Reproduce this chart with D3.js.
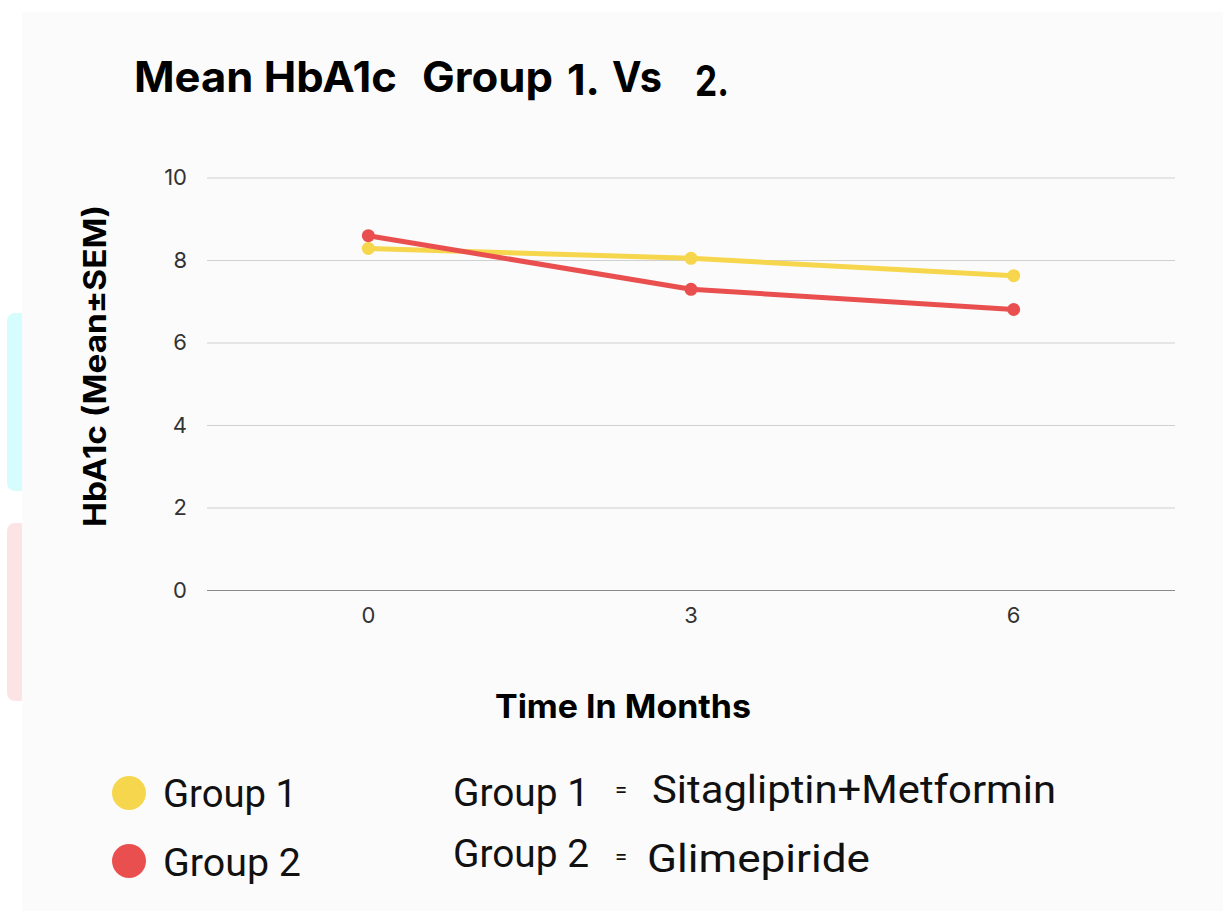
<!DOCTYPE html>
<html>
<head>
<meta charset="utf-8">
<script src="https://cdn.jsdelivr.net/npm/d3@7"></script>
<style>
  html, body { margin: 0; padding: 0; background: #ffffff; }
  svg { display: block; }
</style>
</head>
<body>
<svg id="chart" width="1223" height="911"></svg>
<script>
// HbA1c over time for two treatment groups
const months = ["0", "3", "6"];
const group1 = [8.28, 8.04, 7.62];   // Sitagliptin+Metformin
const group2 = [8.59, 7.29, 6.80];   // Glimepiride
const yTicks = [0, 2, 4, 6, 8, 10];
const seriesNames = ["Group 1", "Group 2"];
const seriesColors = ["#f6d64c", "#ea4f4f"];
const drugNames = ["Sitagliptin+Metformin", "Glimepiride"];

const svg = d3.select("#chart");
const geo = "Inter, 'Open Sans', sans-serif";
const legendFont = "Roboto, 'Noto Sans', sans-serif";

// card background
svg.append("rect").attr("x", 22).attr("y", 12).attr("width", 1201).attr("height", 899)
  .attr("fill", "#fbfbfb");
// faint side tabs on the left edge
svg.append("rect").attr("x", 7).attr("y", 313).attr("width", 22).attr("height", 178).attr("rx", 8)
  .attr("fill", "#d6fdfd");
svg.append("rect").attr("x", 7).attr("y", 523).attr("width", 22).attr("height", 178).attr("rx", 8)
  .attr("fill", "#fde4e4");
svg.append("rect").attr("x", 22).attr("y", 300).attr("width", 10).attr("height", 420)
  .attr("fill", "#fbfbfb");

const plot = { left: 207, right: 1175, top: 177.5, bottom: 590 };

const x = d3.scaleBand().domain(months).range([plot.left, plot.right]);
const y = d3.scaleLinear().domain([0, 10]).range([plot.bottom, plot.top]);
const cx = m => x(m) + x.bandwidth() / 2;

// horizontal gridlines + y labels
const yAxis = svg.append("g")
  .attr("transform", `translate(${plot.left},0)`)
  .call(d3.axisLeft(y).tickValues(yTicks).tickSize(-(plot.right - plot.left)).tickPadding(20));
yAxis.select(".domain").remove();
yAxis.selectAll(".tick line")
  .attr("stroke", d => d === 0 ? "#8a8a8a" : "#d0d0d0")
  .attr("stroke-width", 1.2);
yAxis.selectAll(".tick text")
  .attr("font-family", geo)
  .attr("font-size", 22).attr("fill", "#333");

// x labels
const xAxis = svg.append("g")
  .attr("transform", `translate(0,${plot.bottom})`)
  .call(d3.axisBottom(x).tickSize(0).tickPadding(17));
xAxis.select(".domain").remove();
xAxis.selectAll(".tick text")
  .attr("font-family", geo)
  .attr("font-size", 22).attr("fill", "#333");

// lines and markers
const line = d3.line().x((d, i) => cx(months[i])).y(d => y(d));
[group1, group2].forEach((vals, k) => {
  svg.append("path").datum(vals).attr("d", line)
    .attr("fill", "none").attr("stroke", seriesColors[k])
    .attr("stroke-width", 5).attr("stroke-linejoin", "round");
  svg.selectAll(null).data(vals).enter().append("circle")
    .attr("cx", (d, i) => cx(months[i])).attr("cy", d => y(d)).attr("r", 6.5)
    .attr("fill", seriesColors[k]);
});

// axis titles
svg.append("text")
  .attr("transform", `translate(106,${366}) rotate(-90)`)
  .attr("text-anchor", "middle")
  .attr("font-family", geo).attr("font-weight", 700)
  .attr("font-size", 31).attr("fill", "#000")
  .attr("textLength", 322).attr("lengthAdjust", "spacingAndGlyphs")
  .text("HbA1c (Mean±SEM)");
svg.append("text")
  .attr("x", 495).attr("y", 718)
  .attr("font-family", geo).attr("font-weight", 700)
  .attr("font-size", 33).attr("fill", "#000")
  .attr("textLength", 256).attr("lengthAdjust", "spacingAndGlyphs")
  .text("Time In Months");

// title, set piece by piece
const titleParts = [
  { t: "Mean HbA1c", x: 134, y: 92, w: 263 },
  { t: "Group", x: 422, y: 92, w: 131 },
  { t: "1.", x: 567, y: 95, w: 33 },
  { t: "Vs", x: 612, y: 92, w: 50 },
  { t: "2.", x: 695, y: 96, w: 34 }
];
svg.selectAll(null).data(titleParts).enter().append("text")
  .attr("x", d => d.x).attr("y", d => d.y)
  .attr("font-family", geo).attr("font-weight", 700).attr("font-size", 42).attr("fill", "#000")
  .attr("textLength", d => d.w).attr("lengthAdjust", "spacingAndGlyphs")
  .text(d => d.t);

// legend
seriesNames.forEach((name, k) => {
  const ly = 793 + k * 68;
  svg.append("circle").attr("cx", 129).attr("cy", ly).attr("r", 17).attr("fill", seriesColors[k]);
  svg.append("text").attr("x", 163).attr("y", ly + 14 + k * 1)
    .attr("font-family", legendFont).attr("font-size", 38).attr("fill", "#111")
    .attr("textLength", 134 + k * 4).attr("lengthAdjust", "spacingAndGlyphs")
    .text(name);
});

// group definitions
const defRows = [
  { base: 806, eq: 797, drugX: 652, drugBase: 803, drugW: 404 },
  { base: 867, eq: 864, drugX: 647, drugBase: 872, drugW: 223 }
];
drugNames.forEach((drug, k) => {
  const r = defRows[k];
  svg.append("text").attr("x", 453).attr("y", r.base)
    .attr("font-family", legendFont).attr("font-size", 38).attr("fill", "#111")
    .attr("textLength", 136).attr("lengthAdjust", "spacingAndGlyphs")
    .text(seriesNames[k]);
  svg.append("text").attr("x", 615).attr("y", r.eq)
    .attr("font-family", legendFont).attr("font-size", 22).attr("fill", "#111").text("=");
  svg.append("text").attr("x", r.drugX).attr("y", r.drugBase)
    .attr("font-family", legendFont).attr("font-size", 39).attr("fill", "#111")
    .attr("textLength", r.drugW).attr("lengthAdjust", "spacingAndGlyphs")
    .text(drug);
});
</script>
</body>
</html>
